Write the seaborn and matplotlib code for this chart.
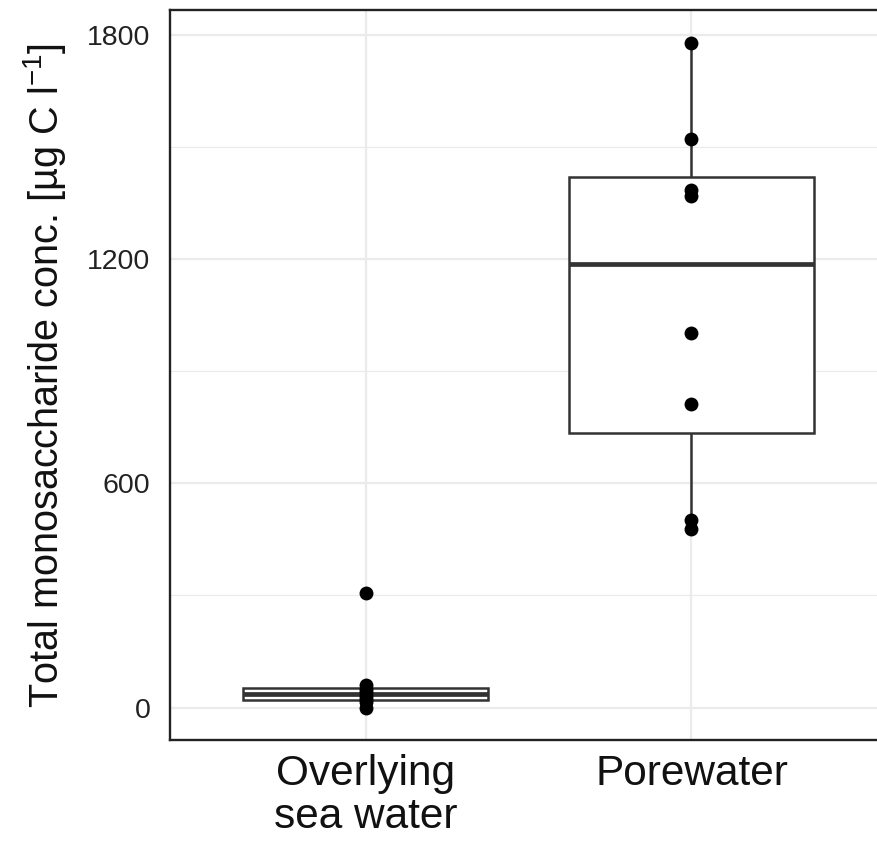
import matplotlib
matplotlib.use("Agg")
import matplotlib.pyplot as plt
import seaborn as sns
import pandas as pd
from matplotlib.ticker import FixedLocator

# Measured total monosaccharide concentrations per sample
overlying = [0, 15, 22, 30, 42, 50, 60, 307]
porewater = [478, 502, 813, 1003, 1370, 1386, 1523, 1780]
categories = ["Overlying\nsea water", "Porewater"]
y_ticks = [0, 600, 1200, 1800]
y_minor = [300, 900, 1500]

df = pd.DataFrame({
    "site": [categories[0]] * len(overlying) + [categories[1]] * len(porewater),
    "conc": overlying + porewater,
})

sns.set_theme(style="white")
plt.rcParams["font.family"] = ["Liberation Sans", "DejaVu Sans"]
plt.rcParams["mathtext.fontset"] = "custom"
plt.rcParams["mathtext.rm"] = "Liberation Sans"
plt.rcParams["mathtext.it"] = "Liberation Sans"

fig = plt.figure(figsize=(8.78, 8.41), dpi=100)
ax = fig.add_axes([170 / 878, 101 / 841, (887 - 170) / 878, 730 / 841])

edge = "#333333"
sns.boxplot(data=df, x="site", y="conc", order=categories, width=0.75,
            color="white", linecolor=edge, linewidth=1.8, showfliers=False,
            showcaps=False, whis=1.5,
            medianprops={"linewidth": 3.4, "color": edge},
            ax=ax)
sns.stripplot(data=df, x="site", y="conc", order=categories, jitter=False,
              color="black", size=10, linewidth=0, zorder=5, ax=ax)

ax.set_xlim(-0.6, 1.6)
ax.set_ylim(-87, 1868)
ax.yaxis.set_major_locator(FixedLocator(y_ticks))
ax.yaxis.set_minor_locator(FixedLocator(y_minor))
ax.set_yticklabels([str(t) for t in y_ticks])

ax.set_axisbelow(True)
ax.grid(which="major", axis="both", color="#EBEBEB", linewidth=1.6)
ax.grid(which="minor", axis="y", color="#EBEBEB", linewidth=0.9)

for side in ["left", "top", "bottom", "right"]:
    ax.spines[side].set_visible(True)
    ax.spines[side].set_color("#222222")
    ax.spines[side].set_linewidth(1.7)

ax.tick_params(axis="y", which="both", length=0, pad=14, labelsize=20.5,
               labelcolor="#222222")
ax.tick_params(axis="x", which="both", length=0, pad=10, labelsize=30.5,
               labelcolor="#111111")
for lbl in ax.get_xticklabels():
    lbl.set_linespacing(1.1)

ax.set_xlabel("")
ax.set_ylabel(r"Total monosaccharide conc. [µg C l$^{-1}$]",
              fontsize=28.5, color="#111111", labelpad=14)

fig.savefig("out.png", dpi=100)
